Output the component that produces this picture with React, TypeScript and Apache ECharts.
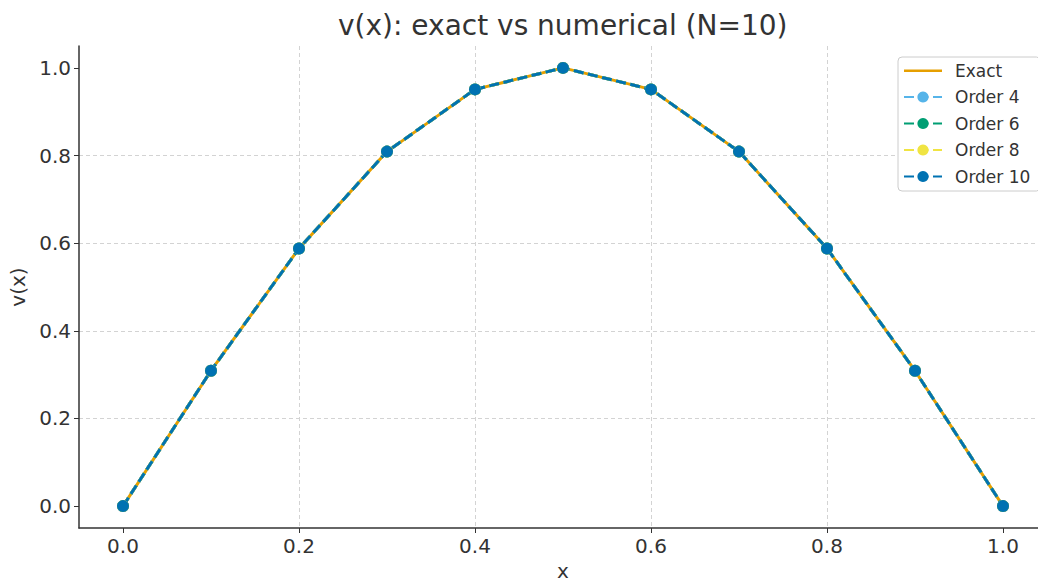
import React, { useEffect, useRef } from "react";
import * as echarts from "echarts";

const xValues = [0.0, 0.1, 0.2, 0.3, 0.4, 0.5, 0.6, 0.7, 0.8, 0.9, 1.0];
const exactValues = [0.0, 0.309, 0.588, 0.809, 0.951, 1.0, 0.951, 0.809, 0.588, 0.309, 0.0];
const order4Values = [0.0, 0.309, 0.588, 0.809, 0.951, 1.0, 0.951, 0.809, 0.588, 0.309, 0.0];
const order6Values = [0.0, 0.309, 0.588, 0.809, 0.951, 1.0, 0.951, 0.809, 0.588, 0.309, 0.0];
const order8Values = [0.0, 0.309, 0.588, 0.809, 0.951, 1.0, 0.951, 0.809, 0.588, 0.309, 0.0];
const order10Values = [0.0, 0.309, 0.588, 0.809, 0.951, 1.0, 0.951, 0.809, 0.588, 0.309, 0.0];
const xTicks = [0.0, 0.2, 0.4, 0.6, 0.8, 1.0];
const yTicks = [0.0, 0.2, 0.4, 0.6, 0.8, 1.0];

const FONT = "DejaVu Sans";
const LINE_ICON = "path://M0,0 L0.05,0 L0,0.05 Z M0,6 L38,6 L38,8.5 L0,8.5 Z M38,14 L37.95,14 L38,13.95 Z";

function pairs(vals: number[]) {
  return xValues.map((x, i) => [x, vals[i]]);
}

export default function App() {
  const ref = useRef<HTMLDivElement>(null);
  useEffect(() => {
    if (!ref.current) return;
    const chart = echarts.init(ref.current, undefined, { renderer: "svg" });
    const orderSeries = (name: string, vals: number[], color: string) => ({
      name,
      type: "line",
      data: pairs(vals),
      symbol: "circle",
      symbolSize: 12,
      showSymbol: true,
      itemStyle: { color },
      lineStyle: { color, width: 3, type: [10, 4.5] },
      emphasis: { disabled: true },
    });
    const axisCommon = {
      type: "value",
      min: -0.05,
      max: 1.05,
      splitNumber: 5,
      nameLocation: "middle",
      axisLine: { show: true, onZero: false, lineStyle: { color: "#333", width: 1.5 } },
      splitLine: {
        show: true,
        showMinLine: false,
        showMaxLine: false,
        lineStyle: { color: "#d3d3d3", type: [4, 3], width: 1 },
      },
    };
    chart.setOption({
      animation: false,
      textStyle: { fontFamily: FONT },
      title: {
        text: "v(x): exact vs numerical (N=10)",
        left: 333,
        top: 6,
        textStyle: { fontFamily: FONT, fontSize: 28, fontWeight: "normal", color: "#333" },
      },
      grid: { left: 79, top: 46, width: 968, height: 482, containLabel: false, outerBoundsMode: "none" },
      legend: {
        left: 898,
        top: 57,
        orient: "vertical",
        itemWidth: 38,
        itemHeight: 14,
        itemGap: 9.5,
        padding: [5, 10, 6, 5],
        backgroundColor: "#fff",
        borderColor: "#ccc",
        borderWidth: 1,
        borderRadius: 4,
        textStyle: { fontFamily: FONT, fontSize: 17, color: "#333", lineHeight: 14, height: 14, padding: [0, 0, 0, 8] },
        data: [
          { name: "Exact", icon: LINE_ICON },
          "Order 4",
          "Order 6",
          "Order 8",
          "Order 10",
        ],
      },
      xAxis: {
        ...axisCommon,
        name: "x",
        nameGap: 26,
        nameTextStyle: { fontFamily: FONT, fontSize: 20, color: "#333", lineHeight: 20 },
        axisTick: { show: true, length: 5, lineStyle: { color: "#333" }, customValues: xTicks },
        axisLabel: {
          fontFamily: FONT,
          fontSize: 20,
          color: "#333",
          margin: 8,
          customValues: xTicks,
          formatter: (v: number) => v.toFixed(1),
        },
      },
      yAxis: {
        ...axisCommon,
        name: "v(x)",
        nameGap: 47,
        nameTextStyle: { fontFamily: FONT, fontSize: 20, color: "#333" },
        axisTick: { show: true, length: 5, lineStyle: { color: "#333" }, customValues: yTicks },
        axisLabel: {
          fontFamily: FONT,
          fontSize: 20,
          color: "#333",
          margin: 8,
          customValues: yTicks,
          formatter: (v: number) => v.toFixed(1),
        },
      },
      series: [
        {
          name: "Exact",
          type: "line",
          data: pairs(exactValues),
          symbol: "none",
          showSymbol: false,
          itemStyle: { color: "#E69F00" },
          lineStyle: { color: "#E69F00", width: 3 },
          emphasis: { disabled: true },
        },
        orderSeries("Order 4", order4Values, "#56B4E9"),
        orderSeries("Order 6", order6Values, "#009E73"),
        orderSeries("Order 8", order8Values, "#F0E442"),
        orderSeries("Order 10", order10Values, "#0072B2"),
      ],
    });
    return () => chart.dispose();
  }, []);
  return (
    <div
      ref={ref}
      style={{ position: "absolute", left: 0, top: 0, width: 1038, height: 580 }}
    />
  );
}
